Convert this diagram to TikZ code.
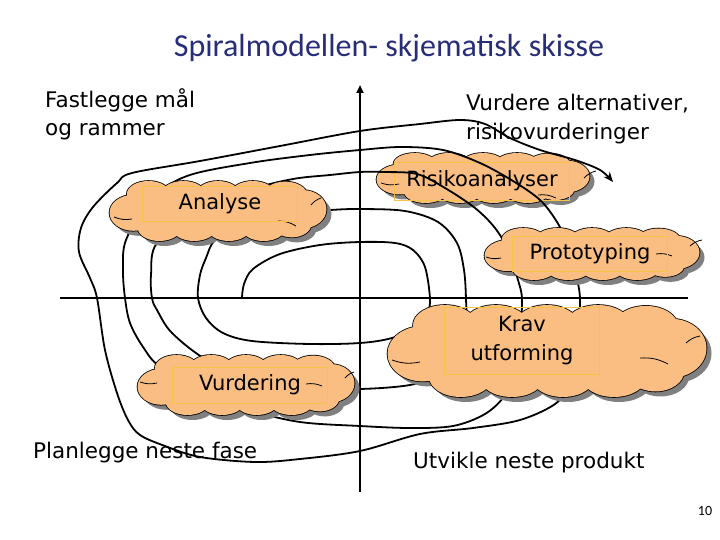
\documentclass[tikz,border=0pt]{standalone}
\usepackage{fontspec}
\setmainfont{DejaVu Sans}
\newfontfamily\titlefont{Carlito}
\usetikzlibrary{arrows.meta}
\definecolor{peach}{RGB}{250,190,130}
\definecolor{boxgold}{RGB}{245,195,70}
\definecolor{titleblue}{RGB}{40,45,120}
\definecolor{shadowgray}{RGB}{128,128,128}
\tikzset{
  tbox/.style={draw=boxgold, line width=0.8pt, inner sep=0pt, font=\fontsize{21}{29}\selectfont, align=center},
  lbl/.style={font=\fontsize{21.5}{26}\selectfont, inner sep=0pt, anchor=west},
  spiral/.style={line width=1.8pt, line join=round},
  axisline/.style={line width=2.8pt},
  curl/.style={line width=0.8pt},
}
\newcommand\puffset{%
 (0,0) ellipse [x radius=0.42, y radius=0.40]
 (-0.32,-0.28) ellipse [x radius=0.10, y radius=0.22]
 (-0.16,-0.29) ellipse [x radius=0.10, y radius=0.21]
 (0.00,-0.28) ellipse [x radius=0.10, y radius=0.22]
 (0.16,-0.29) ellipse [x radius=0.10, y radius=0.21]
 (0.31,-0.27) ellipse [x radius=0.10, y radius=0.22]
 (-0.27,0.28) ellipse [x radius=0.10, y radius=0.22]
 (-0.11,0.29) ellipse [x radius=0.10, y radius=0.21]
 (0.05,0.28) ellipse [x radius=0.10, y radius=0.22]
 (0.21,0.29) ellipse [x radius=0.10, y radius=0.21]
 (0.34,0.22) ellipse [x radius=0.09, y radius=0.22]
 (-0.39,0.03) ellipse [x radius=0.11, y radius=0.30]
 (0.39,-0.03) ellipse [x radius=0.11, y radius=0.32]}
\newcommand\mycloud[4]{%
 \begin{scope}[shift={(#1+5,#2+5)}, xscale=#3, yscale=#4]
  \fill[shadowgray] \puffset;
 \end{scope}
 \begin{scope}[shift={(#1,#2)}, xscale=#3, yscale=#4]
  \draw[line width=1.6pt] \puffset;
  \fill[peach] \puffset;
 \end{scope}}
\begin{document}
\begin{tikzpicture}[x=1pt,y=-1pt]
\useasboundingbox[fill=white] (0,0) rectangle (720,540);
% title
\node[font=\titlefont\fontsize{32}{36}\selectfont, text=titleblue, inner sep=0pt] (title) at (389,48) {Spiralmodellen- skjematisk skisse};
% labels
\node[lbl] (fast) at (45,100) {Fastlegge mål};
\node[lbl] (ogr) at (45,132) {og rammer};
\node[lbl] (vurd) at (466,104) {Vurdere alternativer,};
\node[lbl] (risv) at (466,134) {risikovurderinger};
\node[lbl] (plan) at (33,453) {Planlegge neste fase};
\node[lbl] (utv) at (413,463) {Utvikle neste produkt};
\node[font=\titlefont\fontsize{14}{16}\selectfont, inner sep=0pt] (pg) at (705,511) {10};
% axes
\coordinate (hl) at (60,298);
\coordinate (hr) at (688,298);
\coordinate (vb) at (360,492);
\coordinate (vt) at (360,85);
\draw[axisline] (hl) -- (hr);
\draw[axisline, -{Triangle[length=8pt,width=7pt]}] (vb) -- (vt);
% cloud drawn under the spiral
\mycloud{483}{178}{213}{50}
\draw[curl] (381,183) to[bend right=15] (399,184);
\draw[curl] (584,178) to[bend left=15] (596,171);
\draw[curl] (538,195) to[bend left=15] (556,198);
\node[tbox, minimum width=175pt, minimum height=38pt] (tR) at (482,181) {Risikoanalyser};
% spiral
\draw[spiral, -{Stealth[length=10pt,width=8pt]}] plot[smooth, tension=0.55] coordinates {
(242,298) (244,284) (253,269) (280,254) (320,245) (360,242) (395,243) (413,250) (425,267) (430,299)
(427,314) (417,327) (392,338) (360,343) (310,344) (252,341) (223,333) (206,318) (198,298) (200,275)
(206,258) (215,240) (240,225) (290,213) (330,210) (360,209) (405,211) (438,222) (457,243) (464,270)
(466,299) (466,325) (458,355) (438,375) (410,385) (360,389) (300,388) (250,375) (207,360) (172,333)
(157,310) (152,298) (151,275) (157,243) (200,212) (250,190) (293,179) (330,175) (360,172) (383,172)
(417,174) (445,188) (475,208) (495,228) (508,250) (518,280) (522,299) (520,330) (513,370) (505,395)
(485,414) (453,426) (410,428) (360,426) (300,422) (250,410) (200,390) (160,367) (143,347) (130,323)
(125,298) (123,270) (126,240) (150,200) (187,176) (250,163) (310,155) (360,150) (401,147) (443,150)
(480,163) (513,181) (540,200) (557,222) (568,245) (576,275) (580,299) (578,340) (568,385) (555,404)
(520,420) (473,428) (420,434) (360,451) (300,459) (255,462) (200,457) (165,446) (140,435) (128,420)
(117,393) (105,350) (97,298) (90,278) (79,252) (81,228) (93,207) (117,183) (132,173) (200,161)
(280,146) (360,131) (420,124) (460,120) (485,124) (510,138) (540,150) (575,160) (600,170) (613,182)};
% clouds over the spiral
\mycloud{218}{211}{217}{60}
\draw[curl] (114,217) to[bend right=15] (132,219);
\draw[curl] (311,205) to[bend left=15] (321,198);
\draw[curl] (278,221) to[bend left=15] (296,226);
\node[tbox, minimum width=155pt, minimum height=35pt] (tA) at (220,204) {Analyse};
\mycloud{592}{254}{215}{52}
\draw[curl] (486,257) to[bend right=15] (501,258);
\draw[curl] (690,246) to[bend left=15] (702,240);
\draw[curl] (656,254) to[bend left=15] (672,256);
\node[tbox, minimum width=155pt, minimum height=35pt] (tP) at (590,254) {Prototyping};
\mycloud{547}{351}{319}{92}
\draw[curl] (392,360) to[bend right=15] (420,362);
\draw[curl] (686,343) to[bend left=15] (700,336);
\draw[curl] (640,358) to[bend left=15] (668,364);
\node[tbox, minimum width=155pt, minimum height=67pt] (tK) at (522,341) {Krav\\utforming};
\mycloud{246}{385}{217}{60}
\draw[curl] (140,382) to[bend right=15] (157,383);
\draw[curl] (345,378) to[bend left=15] (354,372);
\draw[curl] (306,384) to[bend left=15] (322,386);
\node[tbox, minimum width=155pt, minimum height=36pt] (tV) at (250,385) {Vurdering};
\end{tikzpicture}
\end{document}
